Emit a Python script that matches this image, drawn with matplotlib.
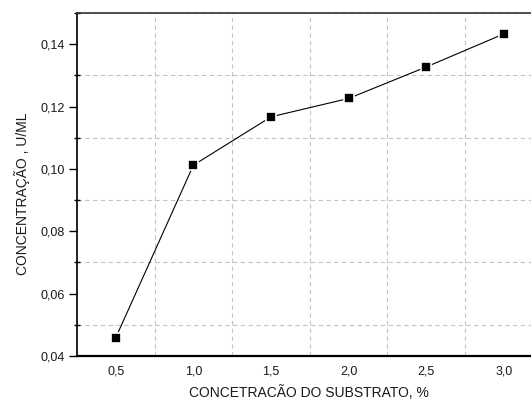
import numpy as np
import matplotlib
matplotlib.use("Agg")
import matplotlib.pyplot as plt
from matplotlib.ticker import MultipleLocator, FuncFormatter

plt.rcParams['font.family'] = ['Liberation Sans', 'DejaVu Sans']

# dados
substrato = [0.5, 1.0, 1.5, 2.0, 2.5, 3.0]
concentracao = [0.0459, 0.1012, 0.1167, 0.1226, 0.1327, 0.1433]

fig = plt.figure(figsize=(5.31, 4.01), dpi=100)
ax = fig.add_axes([0.145, 0.1122, 0.877, 0.8554])

# linha com pequenos espacos em volta dos marcadores (estilo Origin)
ax.plot(substrato, concentracao, color='black', lw=0.8, zorder=3)
ax.plot(substrato, concentracao, ls='none', marker='s', ms=7.5,
        mfc='black', mec='white', mew=1.2, zorder=4)

ax.set_xlim(0.25, 3.25)
ax.set_ylim(0.04, 0.15)

ax.xaxis.set_major_locator(MultipleLocator(0.5))
ax.xaxis.set_minor_locator(MultipleLocator(0.5, offset=0.25))
ax.yaxis.set_major_locator(MultipleLocator(0.02))
ax.yaxis.set_minor_locator(MultipleLocator(0.02, offset=0.01))

virgula = FuncFormatter(lambda v, p: f"{v:.1f}".replace('.', ','))
virgula_y = FuncFormatter(lambda v, p: f"{v:.2f}".replace('.', ','))
ax.xaxis.set_major_formatter(virgula)
ax.yaxis.set_major_formatter(virgula_y)

ax.grid(which='minor', color='#c4c4c4', lw=0.8, dashes=(4, 3))

ax.tick_params(axis='x', which='both', length=0, pad=6.5, labelsize=9,
               labelcolor='#1a1a1a')
ax.tick_params(axis='y', which='major', direction='out', length=6, width=1,
               pad=3, labelsize=9, labelcolor='#1a1a1a')
ax.tick_params(axis='y', which='minor', direction='inout', length=4, width=1)

ax.spines['right'].set_visible(False)
ax.spines['left'].set_linewidth(1.2)
ax.spines['top'].set_linewidth(1.2)
ax.spines['top'].set_color('#333333')
ax.spines['bottom'].set_linewidth(1.6)

ax.set_xlabel('CONCETRACÃO DO SUBSTRATO, %', fontsize=10, color='#1a1a1a')
ax.set_ylabel('CONCENTRAÇÃO , U/ML', fontsize=10, color='#1a1a1a')
ax.yaxis.set_label_coords(-0.1, 0.472)
ax.xaxis.set_label_coords(0.499, -0.086)

fig.savefig('out.png', dpi=100)
